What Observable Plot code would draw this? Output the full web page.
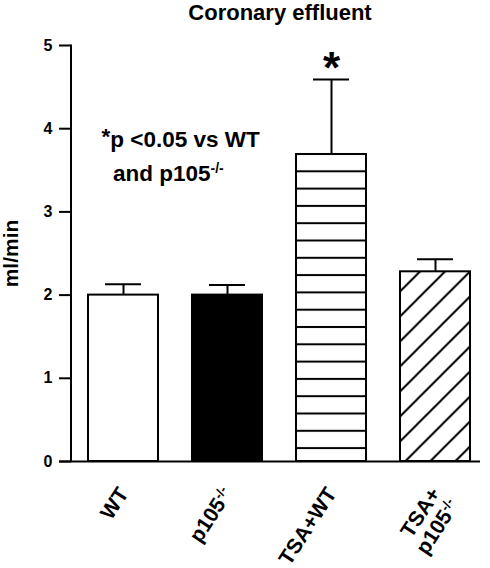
<!DOCTYPE html>
<html><head><meta charset="utf-8">
<script src="https://cdn.jsdelivr.net/npm/d3@7"></script>
<script src="https://cdn.jsdelivr.net/npm/@observablehq/plot@0.6"></script>
<style>html,body{margin:0;padding:0;background:#fff;} svg{display:block}</style>
</head><body><div id="chart"></div>
<script>
const groups = ["WT", "p105-/-", "TSA+WT", "TSA+\np105-/-"];
const means = [2.0, 2.0, 3.69, 2.28];
const sems = [0.13, 0.12, 0.90, 0.15];
const fills = ["white", "black", "url(#hstripe)", "url(#diag)"];
const yTicks = [0, 1, 2, 3, 4, 5];
const title = "Coronary effluent";
const yLabel = "ml/min";
const note1 = "*p <0.05 vs WT";
const note2 = "and p105-/-";
const star = "*";
const starGroup = "TSA+WT";

const data = groups.map((g, i) => ({group: g, mean: means[i], sem: sems[i], top: means[i] + sems[i], fill: fills[i]}));

const W = 490, H = 568, ML = 71, MR = 10, MT = 45, MB = 107;
const font = "Liberation Sans, Arial, Helvetica, sans-serif";

const plot = Plot.plot({
  width: W, height: H, marginLeft: ML, marginRight: MR, marginTop: MT, marginBottom: MB,
  style: {fontFamily: font, background: "white", color: "black", fontSize: "16px"},
  x: {domain: groups, axis: null, paddingInner: 0.33, paddingOuter: 0.13, align: 0.63},
  y: {domain: [0, 5]},
  color: {type: "identity"},
  marks: [
    Plot.barY(data, {x: "group", y: "mean", fill: "fill", stroke: "black", strokeWidth: 2}),
    Plot.ruleX(data, {x: "group", y1: "mean", y2: "top", stroke: "black", strokeWidth: 2}),
    Plot.tickY(data, {x: "group", y: "top", stroke: "black", strokeWidth: 2, insetLeft: 17, insetRight: 17}),
    Plot.ruleY([0], {stroke: "black", strokeWidth: 2, insetLeft: -12}),
    Plot.axisY({ticks: yTicks, tickSize: 12, tickPadding: 7, tickFormat: d3.format("d"), label: null, fontSize: 16, fontWeight: "bold", strokeWidth: 2}),
    Plot.text(groups, {x: d => d, frameAnchor: "bottom", dx: -7.5, dy: 23.5, rotate: -57, textAnchor: "end", lineAnchor: "top", fontSize: 21, fontWeight: "bold", lineHeight: 1.05}),
    Plot.text([title], {frameAnchor: "top", dy: -26, dx: 4, lineAnchor: "bottom", textAnchor: "middle", fontSize: 22, fontWeight: "bold"}),
    Plot.text([yLabel], {frameAnchor: "left", dx: -60, rotate: -90, textAnchor: "middle", lineAnchor: "middle", fontSize: 21, fontWeight: "bold"}),
    Plot.text([note1], {frameAnchor: "top-left", dx: 30, dy: 101.7, textAnchor: "start", lineAnchor: "bottom", fontSize: 22.5, fontWeight: "bold"}),
    Plot.text([note2], {frameAnchor: "top-left", dx: 41.5, dy: 135, textAnchor: "start", lineAnchor: "bottom", fontSize: 22.5, fontWeight: "bold"}),
    Plot.text(data.filter(d => d.group === starGroup), {x: "group", y: "top", text: () => star, lineAnchor: "bottom", dy: 3, fontSize: 44, fontWeight: "bold"})
  ]
});

const svg = d3.select(plot);
const ys = plot.scale("y");
const defs = svg.insert("defs", ":first-child");
const stripeTop = ys.apply(means[2]);
const sp = 17.3;
const hp = defs.append("pattern").attr("id", "hstripe").attr("patternUnits", "userSpaceOnUse")
  .attr("x", 0).attr("y", stripeTop - sp / 2).attr("width", 10).attr("height", sp);
hp.append("rect").attr("width", 10).attr("height", sp).attr("fill", "white");
hp.append("line").attr("x1", 0).attr("x2", 10).attr("y1", sp / 2).attr("y2", sp / 2)
  .attr("stroke", "black").attr("stroke-width", 2);

const ds = 25, phase = 16.5;
const dp = defs.append("pattern").attr("id", "diag").attr("patternUnits", "userSpaceOnUse")
  .attr("x", phase).attr("y", 0).attr("width", ds).attr("height", ds);
dp.append("rect").attr("width", ds).attr("height", ds).attr("fill", "white");
dp.append("path").attr("d", `M${-ds/2},${ds/2}L${ds/2},${-ds/2}M0,${ds}L${ds},0M${ds/2},${ds*1.5}L${ds*1.5},${ds/2}`)
  .attr("stroke", "black").attr("stroke-width", 2);

svg.append("line").attr("x1", ML).attr("x2", ML).attr("y1", ys.apply(0) + 1).attr("y2", ys.apply(5) - 0.5)
  .attr("stroke", "black").attr("stroke-width", 2);

svg.selectAll("text, tspan").each(function() {
  if (this.children.length) return;
  const t = this.textContent;
  if (t.includes("-/-")) {
    const parts = t.split("-/-");
    this.textContent = parts[0];
    d3.select(this).append("tspan").attr("baseline-shift", "super").style("font-size", "0.62em").text("-/-");
  } else if (t.startsWith("*p")) {
    this.textContent = "";
    d3.select(this).append("tspan").attr("baseline-shift", "3").text("*");
    this.appendChild(document.createTextNode(t.slice(1)));
  }
});

document.getElementById("chart").append(plot);
</script>
</body></html>
